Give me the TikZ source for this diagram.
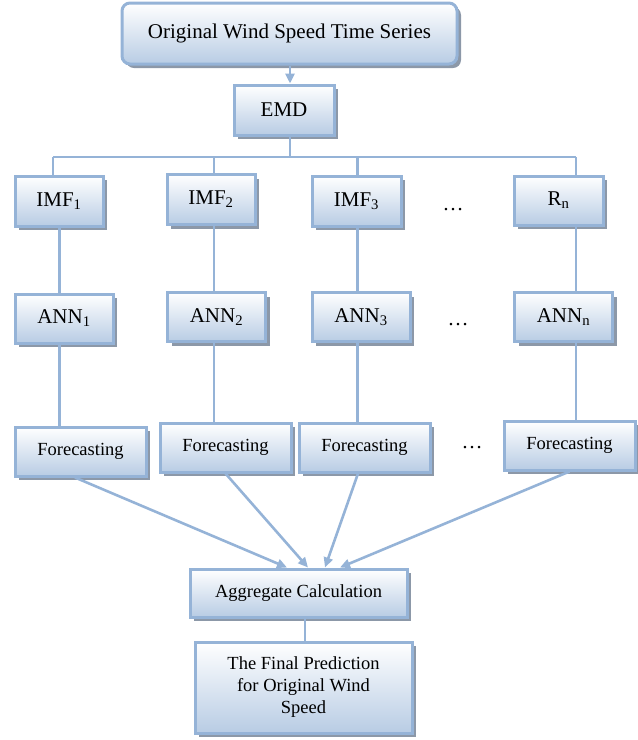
\documentclass[tikz,border=0pt]{standalone}
\usepackage{fontspec}
\setmainfont{Liberation Serif}
\usetikzlibrary{shapes,positioning,calc,shadows,arrows.meta}
\definecolor{bord}{RGB}{149,179,215}
\definecolor{fond}{RGB}{184,204,228}
\definecolor{ombre}{RGB}{140,152,168}

\begin{document}
\begin{tikzpicture}[x=1pt, y=-1pt, >={Triangle[length=10pt,width=9pt]},
    bloc/.style={draw=bord, line width=3pt, top color=white, bottom color=fond, inner sep=0pt,
      drop shadow={shadow xshift=4pt, shadow yshift=-4pt, fill=ombre, opacity=1},
      font=\fontsize{21}{25}\selectfont},
    taille/.style 2 args={minimum width=#1pt, minimum height=#2pt},
    petit/.style={font=\fontsize{18.5}{22}\selectfont},
    lien/.style={draw=bord, line width=2.6pt}]
    \useasboundingbox (0,0) rectangle (638,740);
    \node[bloc, taille={335}{61}, rounded corners=8pt] (serie) at (289.5,33.5) {Original Wind Speed Time Series};
    \node[bloc, taille={100}{50}] (emd) at (284,110) {EMD};
    % les composantes
    \node[bloc, taille={88}{50}] (imf1) at (59,201) {IMF\textsubscript{1}};
    \node[bloc, taille={88}{50}] (imf2) at (211,199.5) {IMF\textsubscript{2}};
    \node[bloc, taille={89}{50}] (imf3) at (356.5,201) {IMF\textsubscript{3}};
    \node[bloc, taille={89}{49}] (rn) at (558.5,200.5) {R\textsubscript{n}};
    \node[font=\fontsize{21}{25}\selectfont] (pts1) at (453,210) {\dots};
    % les reseaux
    \node[bloc, taille={98}{49}] (ann1) at (64,318.5) {ANN\textsubscript{1}};
    \node[bloc, taille={98}{49}] (ann2) at (216.5,317) {ANN\textsubscript{2}};
    \node[bloc, taille={98}{49}] (ann3) at (361,317) {ANN\textsubscript{3}};
    \node[bloc, taille={98}{49}] (annn) at (563.5,317) {ANN\textsubscript{n}};
    \node[font=\fontsize{21}{25}\selectfont] (pts2) at (458,325) {\dots};
    % les previsions
    \node[bloc, petit, taille={131}{49}] (f1) at (80.5,451.5) {Forecasting};
    \node[bloc, petit, taille={131}{49}] (f2) at (225.5,447.5) {Forecasting};
    \node[bloc, petit, taille={131}{49}] (f3) at (364.5,447.5) {Forecasting};
    \node[bloc, petit, taille={131}{49}] (f4) at (569.5,445.5) {Forecasting};
    \node[font=\fontsize{21}{25}\selectfont] (pts3) at (472,448) {\dots};
    \node[bloc, petit, taille={217}{48}] (agg) at (298.5,593) {Aggregate Calculation};
    \node[bloc, petit, taille={217}{91}, align=center] (final) at (303.5,687.5) {The Final Prediction\\for Original Wind\\Speed};

    \coordinate (bus) at (290,157);
    \coordinate (k1) at (53,157);
    \coordinate (col1) at (59.5,157);
    \coordinate (col2) at (214,157);
    \coordinate (col3) at (357.5,157);
    \coordinate (col4) at (576,157);
    \draw[lien,->] (serie.south -| bus) -- (emd.north -| bus);
    \draw[lien] (emd.south -| bus) -- (bus);
    \draw[lien] (k1) -- (col4);
    \draw[lien] (k1) -- (imf1.north -| k1);
    \draw[lien] (col2) -- (imf2.north -| col2);
    \draw[lien] (col3) -- (imf3.north -| col3);
    \draw[lien] (col4) -- (rn.north -| col4);
    \foreach \i/\a/\b/\c in {1/imf1/ann1/f1, 2/imf2/ann2/f2, 3/imf3/ann3/f3, 4/rn/annn/f4} {
      \draw[lien] (\a.south -| col\i) -- (\b.north -| col\i);
      \draw[lien] (\b.south -| col\i) -- (\c.north -| col\i);
    }
    \foreach \f/\dx/\ax in {f1/-5.5/-11.5, f2/0/9.5, f3/-6.5/26.5, f4/0/41.5}
      \draw[lien,->] ([xshift=\dx pt]\f.south) -- ([xshift=\ax pt]agg.north);
    \draw[lien] ([xshift=6.5pt]agg.south) -- ([xshift=1.5pt]final.north);
  \end{tikzpicture}
\end{document}
